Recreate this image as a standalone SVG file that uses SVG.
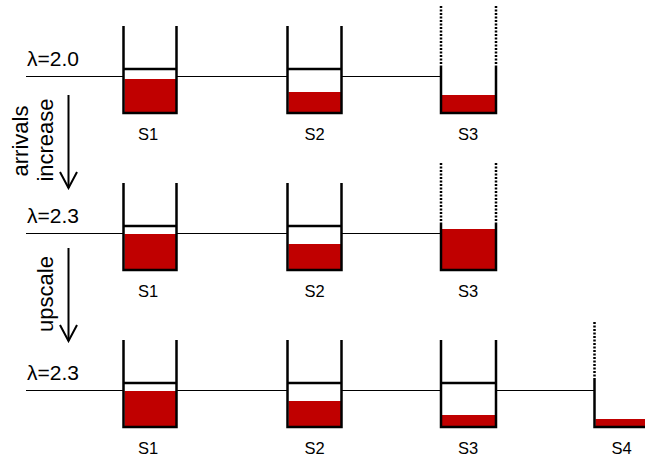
<svg xmlns="http://www.w3.org/2000/svg" width="645" height="459" viewBox="0 0 645 459">
<style>
text{font-family:"Liberation Sans",Arial,sans-serif;fill:#000}
.lam{font-size:21px}
.lbl{font-size:16.5px;text-anchor:middle}
.rot{font-size:22px;text-anchor:middle}
.wall{fill:none;stroke:#000;stroke-width:2.5}
.dot{fill:none;stroke:#000;stroke-width:2.5;stroke-dasharray:2 1.5}
.cap{stroke:#000;stroke-width:2.5}
.q{fill:#c00000}
.in{stroke:#000;stroke-width:1;fill:none}
.arr{stroke:#000;stroke-width:2;fill:none}
</style>
<defs>
<marker id="vhead" markerUnits="userSpaceOnUse" viewBox="-18 -10 20 20" markerWidth="20" markerHeight="20" refX="0" refY="0" orient="auto">
<path d="M-16,-8.5 L0,0 L-16,8.5" fill="none" stroke="#000" stroke-width="2"/>
</marker>
</defs>

<g id="connectors">
<path class="in" d="M26,76.5H123M177,76.5H287M342,76.5H441"/>
<path class="in" d="M26,233.5H123M177,233.5H287M342,233.5H441"/>
<path class="in" d="M26,390.5H123M177,390.5H287M342,390.5H441M496,390.5H594"/>
<line class="arr" x1="68.5" y1="95" x2="68.5" y2="188" marker-end="url(#vhead)"/>
<line class="arr" x1="68.5" y1="248" x2="68.5" y2="341" marker-end="url(#vhead)"/>
</g>

<g id="labels">
<text class="lam" x="27" y="66">λ=2.0</text>
<text class="lam" x="27" y="223">λ=2.3</text>
<text class="lam" x="27" y="380">λ=2.3</text>
<text class="rot" transform="translate(28,141) rotate(-90)">arrivals</text>
<text class="rot" transform="translate(53,140) rotate(-90)">increase</text>
<text class="rot" transform="translate(53,294) rotate(-90)">upscale</text>
</g>

<!-- Row 1 -->
<g id="r1-s1">
<rect class="q" x="124.5" y="79" width="51.5" height="33"/>
<path class="wall" d="M123.5,26V113H176.5V26"/>
<line class="cap" x1="123.5" y1="69" x2="176.5" y2="69"/>
<text class="lbl" x="148" y="139.5">S1</text>
</g>
<g id="r1-s2">
<rect class="q" x="288.5" y="92" width="52.5" height="20"/>
<path class="wall" d="M287.5,26V113H341.5V26"/>
<line class="cap" x1="287.5" y1="69" x2="341.5" y2="69"/>
<text class="lbl" x="314.5" y="139.5">S2</text>
</g>
<g id="r1-s3">
<rect class="q" x="442" y="95" width="53" height="17"/>
<path class="dot" d="M441,6V66M496,6V66"/>
<path class="wall" d="M441,66V113H496V66"/>
<text class="lbl" x="468" y="139.5">S3</text>
</g>

<!-- Row 2 -->
<g id="r2-s1">
<rect class="q" x="124.5" y="234" width="51.5" height="35"/>
<path class="wall" d="M123.5,183V270H176.5V183"/>
<line class="cap" x1="123.5" y1="226" x2="176.5" y2="226"/>
<text class="lbl" x="148" y="296.5">S1</text>
</g>
<g id="r2-s2">
<rect class="q" x="288.5" y="244" width="52.5" height="25"/>
<path class="wall" d="M287.5,183V270H341.5V183"/>
<line class="cap" x1="287.5" y1="226" x2="341.5" y2="226"/>
<text class="lbl" x="314.5" y="296.5">S2</text>
</g>
<g id="r2-s3">
<rect class="q" x="442" y="229" width="53" height="40"/>
<path class="dot" d="M441,163V223M496,163V223"/>
<path class="wall" d="M441,223V270H496V223"/>
<text class="lbl" x="468" y="296.5">S3</text>
</g>

<!-- Row 3 -->
<g id="r3-s1">
<rect class="q" x="124.5" y="391" width="51.5" height="35"/>
<path class="wall" d="M123.5,340V427H176.5V340"/>
<line class="cap" x1="123.5" y1="383" x2="176.5" y2="383"/>
<text class="lbl" x="148" y="453.5">S1</text>
</g>
<g id="r3-s2">
<rect class="q" x="288.5" y="401" width="52.5" height="25"/>
<path class="wall" d="M287.5,340V427H341.5V340"/>
<line class="cap" x1="287.5" y1="383" x2="341.5" y2="383"/>
<text class="lbl" x="314.5" y="453.5">S2</text>
</g>
<g id="r3-s3">
<rect class="q" x="442" y="415" width="53" height="11"/>
<path class="wall" d="M441,340V427H496V340"/>
<line class="cap" x1="441" y1="383" x2="496" y2="383"/>
<text class="lbl" x="468" y="453.5">S3</text>
</g>
<g id="r3-s4">
<rect class="q" x="595.5" y="419" width="50" height="7"/>
<path class="dot" d="M594.5,322V380"/>
<path class="wall" d="M594.5,380V427H646"/>
<text class="lbl" x="621.5" y="453.5">S4</text>
</g>
</svg>
